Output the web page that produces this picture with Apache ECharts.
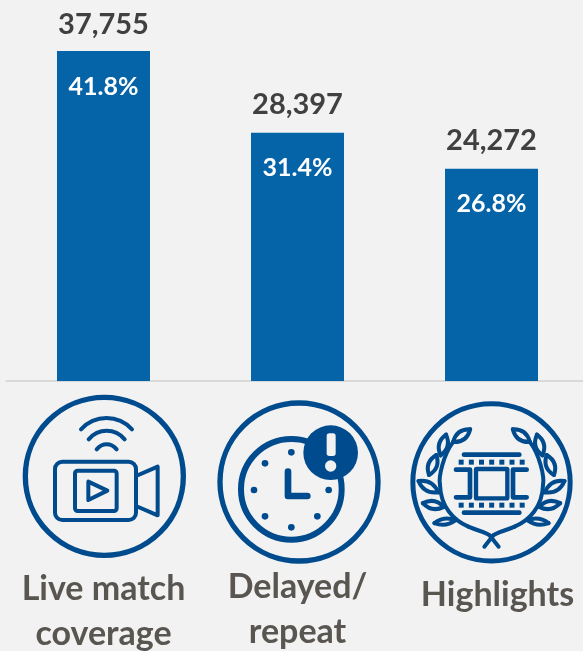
<!DOCTYPE html>
<html><head><meta charset="utf-8">
<style>html,body{margin:0;padding:0;background:#f2f2f2}#c{width:583px;height:651px}</style>
<script src="https://cdn.jsdelivr.net/npm/echarts@6/dist/echarts.min.js"></script>
</head><body><div id="c"></div>
<script>
const categories = ['Live match\ncoverage', 'Delayed/\nrepeat', 'Highlights'];
const viewers = [37755, 28397, 24272];
const shares = ['41.8%', '31.4%', '26.8%'];

const FONT = 'Lato';
const BLUE = '#004b8d';
const base = { stroke: BLUE, lineWidth: 12, fill: 'none', lineCap: 'round', lineJoin: 'round' };
const line = (shape, style) => ({ type: 'polyline', shape: { points: shape }, style: Object.assign({}, base, style) });
const curve = (x1, y1, cpx1, cpy1, cpx2, cpy2, x2, y2, style) => ({ type: 'bezierCurve', shape: { x1, y1, cpx1, cpy1, cpx2, cpy2, x2, y2 }, style: Object.assign({}, base, style) });
const quad = (x1, y1, cpx1, cpy1, x2, y2, style) => ({ type: 'bezierCurve', shape: { x1, y1, cpx1, cpy1, x2, y2 }, style: Object.assign({}, base, style) });
const circle = (cx, cy, r, style) => ({ type: 'circle', shape: { cx, cy, r }, style: Object.assign({}, base, style) });
const rect = (x, y, width, height, r, style) => ({ type: 'rect', shape: { x, y, width, height, r }, style: Object.assign({}, base, style) });
const group = (x, children) => ({ type: 'group', x, y: 370, scaleX: 1 / 3, scaleY: 1 / 3, silent: true, children });

function icon1() {
  return group(0, [
    circle(313, 319, 237, { lineWidth: 16 }),
    curve(243, 178, 285, 133, 354, 133, 396, 178),
    curve(266, 208, 295, 174, 345, 174, 374, 208),
    curve(290, 238, 307, 218, 333, 218, 350, 238),
    rect(165, 275, 243, 175, 22),
    rect(225, 302, 125, 121, 8),
    line([[265, 335], [322, 362], [265, 390], [265, 335]]),
    line([[408, 318], [473, 290], [473, 436], [408, 408]])
  ]);
}
function icon2() {
  const dots = [[274, 247], [274, 472], [162, 360], [386, 360], [195, 280], [195, 439], [352, 439]];
  return group(200, [
    circle(297, 336, 237, { lineWidth: 16 }),
    circle(274, 358, 151, { lineWidth: 18 }),
    ...dots.map(d => circle(d[0], d[1], 10, { fill: BLUE, stroke: null })),
    line([[264, 305], [264, 378], [322, 378]], { lineWidth: 20 }),
    circle(392, 248, 82, { fill: BLUE, stroke: null }),
    rect(380, 190, 27, 68, 8, { fill: '#f2f2f2', stroke: null }),
    circle(392, 288, 17, { fill: '#f2f2f2', stroke: null })
  ]);
}
function placedLeaf(cx, cy, ang, len, wid) {
  return {
    type: 'group', x: cx, y: cy, rotation: ang * Math.PI / 180,
    children: [
      quad(-len, 0, 0, -wid, len, 0, { lineWidth: 12 }),
      quad(-len, 0, 0, wid, len, 0, { lineWidth: 12 })
    ]
  };
}
function icon3() {
  const leaves = [[215, 197, 37, 32, 26], [160, 225, 75, 32, 26], [128, 285, 70, 32, 26], [115, 350, -30, 34, 26], [130, 405, -10, 32, 24], [165, 455, 8, 32, 18]];
  const kids = [
    circle(304.5, 337, 236, { lineWidth: 15 }),
    curve(190, 215, 160, 255, 145, 320, 150, 345),
    curve(150, 345, 152, 410, 190, 450, 235, 470),
    curve(235, 470, 265, 483, 290, 487, 300, 497),
    line([[300, 497], [326, 530]]),
    curve(419, 215, 449, 255, 464, 320, 459, 345),
    curve(459, 345, 457, 410, 419, 450, 374, 470),
    curve(374, 470, 344, 483, 319, 487, 309, 497),
    line([[309, 497], [283, 530]]),
    line([[222, 254], [388, 254]], { lineWidth: 14 }),
    line([[222, 428], [388, 428]], { lineWidth: 14 }),
    rect(258, 297, 94, 88, 2, { lineWidth: 13 }),
    line([[198, 299], [240, 299], [240, 382], [198, 382]], { lineWidth: 14 }),
    line([[410, 299], [369, 299], [369, 382], [410, 382]], { lineWidth: 14 })
  ];
  for (let i = 0; i < 7; i++) {
    const x = 206 + i * 30.5;
    kids.push(rect(x, 269, 15, 15, 0, { fill: BLUE, stroke: null }));
    kids.push(rect(x, 398, 15, 15, 0, { fill: BLUE, stroke: null }));
  }
  leaves.forEach(a => {
    kids.push(placedLeaf(a[0], a[1], a[2], a[3], a[4]));
    kids.push(placedLeaf(609 - a[0], a[1], -a[2], a[3], a[4]));
  });
  return group(390, kids);
}

const catData = categories.map((c, i) => ({
  value: c,
  textStyle: { padding: [[14, 0, 0, 0], [12, 0, 0, 0], [20, 0, 0, 12]][i] }
}));
const valueGaps = [12, 14, 14];

const chart = echarts.init(document.getElementById('c'), null, { renderer: 'canvas' });
chart.setOption({
  animation: false,
  backgroundColor: '#f2f2f2',
  grid: { left: 6.5, right: -5.5, top: 51, bottom: 270, outerBoundsMode: 'none', containLabel: false },
  xAxis: {
    type: 'category', data: catData,
    axisTick: { show: false },
    axisLine: { lineStyle: { color: '#d9d9d9', width: 2 } },
    axisLabel: { interval: 0, margin: 172, color: '#595550', fontFamily: FONT, fontWeight: 'bold', fontSize: 34, lineHeight: 45, hideOverlap: false }
  },
  yAxis: { type: 'value', min: 0, max: 37755, show: false },
  series: [
    {
      type: 'bar',
      data: viewers.map((v, i) => ({ value: v, label: { distance: valueGaps[i] } })),
      barWidth: 93, itemStyle: { color: '#0563a8' }, silent: true,
      label: {
        show: true, position: 'top', color: '#404040',
        fontFamily: FONT, fontWeight: 'bold', fontSize: 29,
        formatter: p => p.value.toLocaleString('en-US')
      }
    },
    {
      type: 'bar', data: viewers, barWidth: 93, barGap: '-100%', itemStyle: { color: 'transparent' }, silent: true,
      label: {
        show: true, position: 'insideTop', distance: 23, color: '#ffffff',
        fontFamily: FONT, fontWeight: 'bold', fontSize: 25,
        formatter: p => shares[p.dataIndex]
      }
    }
  ],
  graphic: [icon1(), icon2(), icon3()]
});
</script></body></html>
